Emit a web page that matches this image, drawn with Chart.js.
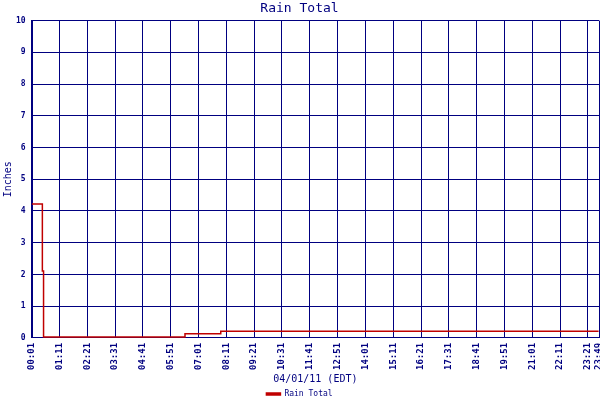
<!DOCTYPE html>
<html>
<head>
<meta charset="utf-8">
<script src="https://cdn.jsdelivr.net/npm/chart.js@4/dist/chart.umd.min.js"></script>
<style>
  html, body { margin: 0; padding: 0; background: #fff; }
  #wrap { width: 600px; height: 400px; }
</style>
</head>
<body>
<div id="wrap"><canvas id="rainChart"></canvas></div>
<script>
// readings: minute of the day -> inches
const rainMinutes = [1, 28, 31, 387, 477, 1428];
const rainInches = [4.22, 2.11, 0.03, 0.13, 0.21, 0.21];

const xTickLabels = ['00:01', '01:11', '02:21', '03:31', '04:41', '05:51', '07:01', '08:11',
    '09:21', '10:31', '11:41', '12:51', '14:01', '15:11', '16:21', '17:31', '18:41',
    '19:51', '21:01', '22:11', '23:21', '23:49'];
const yTicks = [0, 1, 2, 3, 4, 5, 6, 7, 8, 9, 10];

const NAVY = '#000080';
const RED = '#c00000';
const MONO = '"DejaVu Sans Mono", "Liberation Mono", monospace';

function toMinutes(label) {
    const parts = label.split(':');
    return parseInt(parts[0], 10) * 60 + parseInt(parts[1], 10);
}

function toLabel(mins) {
    const h = Math.floor(mins / 60);
    const m = mins % 60;
    return `${h.toString().padStart(2, '0')}:${m.toString().padStart(2, '0')}`;
}

const xTickValues = xTickLabels.map(toMinutes);

document.addEventListener('DOMContentLoaded', () => {
    new Chart(document.getElementById('rainChart'), {
        type: 'line',
        data: {
            datasets: [{
                label: 'Rain Total',
                data: rainMinutes.map((m, i) => ({ x: m, y: rainInches[i] })),
                borderColor: RED,
                backgroundColor: RED,
                borderWidth: 1.5,
                pointRadius: 0,
                stepped: 'before',
                fill: false
            }]
        },
        options: {
            responsive: true,
            maintainAspectRatio: false,
            animation: false,
            layout: { padding: { left: 0, right: 1, top: 1, bottom: 0 } },
            scales: {
                x: {
                    type: 'linear',
                    min: xTickValues[0],
                    max: xTickValues[xTickValues.length - 1],
                    afterBuildTicks: (scale) => {
                        scale.ticks = xTickValues.map(v => ({ value: v }));
                    },
                    afterFit: (scale) => {
                        scale.paddingLeft = 0;
                        scale.paddingRight = 0;
                        scale.height -= 2;
                    },
                    ticks: {
                        autoSkip: false,
                        minRotation: 90,
                        maxRotation: 90,
                        color: NAVY,
                        padding: 5,
                        font: { family: MONO, size: 9, weight: 'bold' },
                        callback: (v) => toLabel(v)
                    },
                    grid: { color: NAVY, lineWidth: 1, tickLength: 0 },
                    border: { color: NAVY, width: 1 },
                    title: {
                        display: true,
                        text: '04/01/11 (EDT)',
                        color: NAVY,
                        font: { family: MONO, size: 10 },
                        padding: { top: 0, bottom: 3 }
                    }
                },
                y: {
                    min: 0,
                    max: 10,
                    afterBuildTicks: (scale) => {
                        scale.ticks = yTicks.map(v => ({ value: v }));
                    },
                    afterFit: (scale) => {
                        scale.width -= 4;
                    },
                    ticks: {
                        color: NAVY,
                        padding: 6,
                        font: { family: MONO, size: 8, weight: 'bold' }
                    },
                    grid: { color: NAVY, lineWidth: 1, tickLength: 0 },
                    border: { color: NAVY, width: 2 },
                    title: {
                        display: true,
                        text: 'Inches',
                        color: NAVY,
                        font: { family: MONO, size: 10 },
                        padding: { top: 2, bottom: 0 }
                    }
                }
            },
            plugins: {
                title: {
                    display: true,
                    text: 'Rain Total',
                    color: NAVY,
                    font: { family: MONO, size: 13, weight: 'normal' },
                    padding: { top: 0, bottom: 4 }
                },
                legend: {
                    position: 'bottom',
                    maxHeight: 12,
                    labels: {
                        color: NAVY,
                        font: { family: MONO, size: 8 },
                        boxWidth: 14,
                        boxHeight: 2,
                        padding: 2
                    }
                },
                tooltip: { enabled: false }
            }
        }
    });
});
</script>
</body>
</html>
